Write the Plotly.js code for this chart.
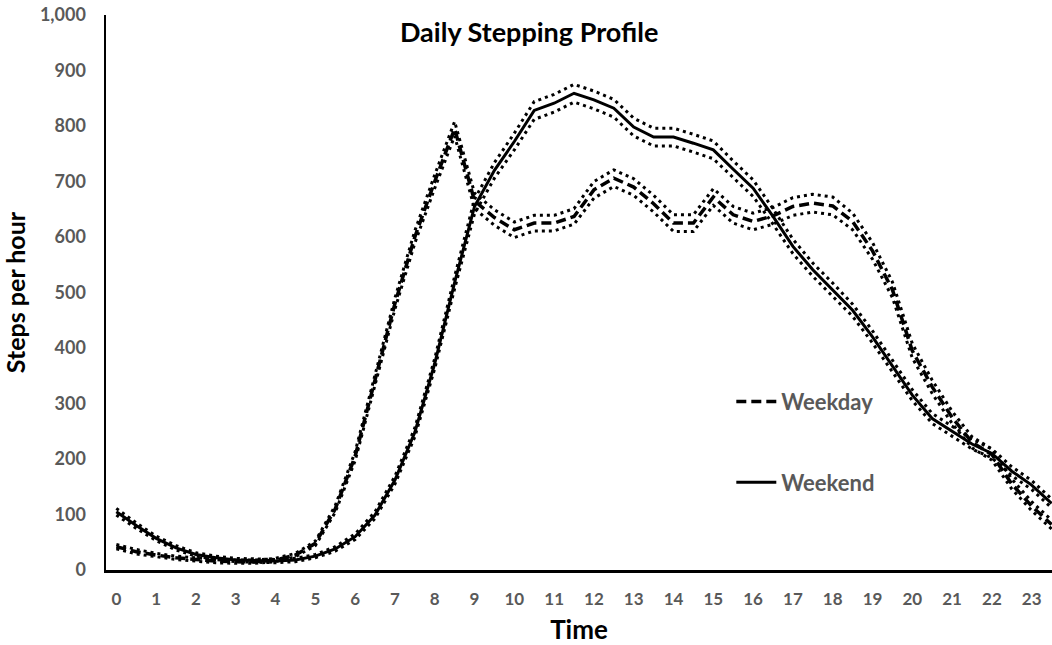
<!DOCTYPE html>
<html>
<head>
<meta charset="utf-8">
<script src="https://cdn.plot.ly/plotly-3.0.1.min.js"></script>
<style>html,body{margin:0;padding:0;background:#fff;}#chart{width:1052px;height:645px;}</style>
</head>
<body>
<div id="chart"></div>
<script>
// Time of day (hours), half-hour resolution
const hours = [0,0.5,1,1.5,2,2.5,3,3.5,4,4.5,5,5.5,6,6.5,7,7.5,8,8.5,9,9.5,10,10.5,11,11.5,12,12.5,13,13.5,14,14.5,15,15.5,16,16.5,17,17.5,18,18.5,19,19.5,20,20.5,21,21.5,22,22.5,23,23.5];
const hourTicks = [0,1,2,3,4,5,6,7,8,9,10,11,12,13,14,15,16,17,18,19,20,21,22,23];

// Weekday steps per hour: mean and confidence limits
const weekdayMean  = [42,33,27,22,19,16,15,15,18,27,48,110,205,340,480,600,700,795,665,635,613,625,625,637,685,706,690,660,625,625,672,640,628,638,655,661,656,628,575,505,395,330,275,230,208,155,115,82];
const weekdayUpper = [46,37,30,25,22,19,18,18,21,30,52,116,213,349,490,611,712,808,679,649,627,639,639,651,700,721,705,675,640,640,687,655,643,653,671,677,672,643,590,519,408,342,286,240,218,164,123,90];
const weekdayLower = [38,29,24,19,16,13,12,12,15,24,44,104,197,331,470,589,688,782,651,621,599,611,611,623,670,691,675,645,610,610,657,625,613,623,639,645,640,613,560,491,382,318,264,220,198,146,107,74];

// Weekend steps per hour: mean and confidence limits
const weekendMean  = [105,80,57,40,28,22,18,17,16,18,25,38,60,99,162,248,372,518,655,720,772,828,841,859,847,832,798,780,780,769,757,722,688,637,583,541,505,468,420,368,315,273,250,227,210,178,153,120];
const weekendUpper = [111,85,61,44,31,25,21,20,19,21,28,42,65,105,169,256,381,529,668,734,787,844,857,875,863,848,814,796,796,785,773,737,703,651,596,553,517,479,431,378,325,282,259,236,218,186,161,128];
const weekendLower = [99,75,53,36,25,19,15,14,13,15,22,34,55,93,155,240,363,507,642,706,757,812,825,843,831,816,782,764,764,753,741,707,673,623,570,529,493,457,409,358,305,264,241,218,202,170,145,112];

const yTicks = [0,100,200,300,400,500,600,700,800,900,1000];

const FONT = 'Lato, "Open Sans", sans-serif';
const dotted = {color:'#000', width:3, dash:'3px,4px'};

const traces = [
  {x:hours, y:weekdayUpper, mode:'lines', line:dotted, showlegend:false, hoverinfo:'skip'},
  {x:hours, y:weekdayLower, mode:'lines', line:dotted, showlegend:false, hoverinfo:'skip'},
  {x:hours, y:weekendUpper, mode:'lines', line:dotted, showlegend:false, hoverinfo:'skip'},
  {x:hours, y:weekendLower, mode:'lines', line:dotted, showlegend:false, hoverinfo:'skip'},
  {x:hours, y:weekdayMean, mode:'lines', name:'Weekday', legendgroup:'wd',
   line:{color:'#000', width:3.5, dash:'10px,5px'}},
  {x:hours, y:weekendMean, mode:'lines', name:'Weekend', legendgroup:'we',
   line:{color:'#000', width:3}}
];

const layout = {
  width:1052, height:645,
  paper_bgcolor:'#fff', plot_bgcolor:'#fff',
  margin:{l:106, r:0, t:15, b:75},
  font:{family:FONT, color:'#595959'},
  title:{text:'Daily Stepping Profile', font:{family:FONT, size:27, color:'#000', weight:'bold'},
         xref:'container', x:0.503, xanchor:'center', yref:'container', y:0.949, yanchor:'middle'},
  xaxis:{
    range:[-0.26, 23.51], tickvals:hourTicks, ticktext:hourTicks.map(String),
    showgrid:false, zeroline:false, showline:true, linecolor:'#000', linewidth:2.5,
    ticks:'outside', ticklen:12, tickcolor:'rgba(0,0,0,0)',
    tickfont:{family:FONT, size:17, color:'#595959', weight:'bold'},
    title:{text:'Time', font:{family:FONT, size:26, color:'#000', weight:'bold'}, standoff:14}
  },
  yaxis:{
    range:[0,1000], tickvals:yTicks, tickformat:',d',
    showgrid:false, zeroline:false, showline:true, linecolor:'#000', linewidth:2.5,
    ticks:'outside', ticklen:14, tickcolor:'rgba(0,0,0,0)',
    tickfont:{family:FONT, size:18, color:'#595959', weight:'bold'},
    title:{text:'Steps per hour', font:{family:FONT, size:25, color:'#000', weight:'bold'}, standoff:10}
  },
  showlegend:true,
  legend:{x:0.661, xanchor:'left', y:0.341, yanchor:'top', bgcolor:'rgba(0,0,0,0)',
          tracegroupgap:49, itemwidth:40,
          font:{family:FONT, size:22, color:'#595959', weight:'bold'}}
};

Plotly.newPlot('chart', traces, layout, {displayModeBar:false, staticPlot:true});
</script>
</body>
</html>
